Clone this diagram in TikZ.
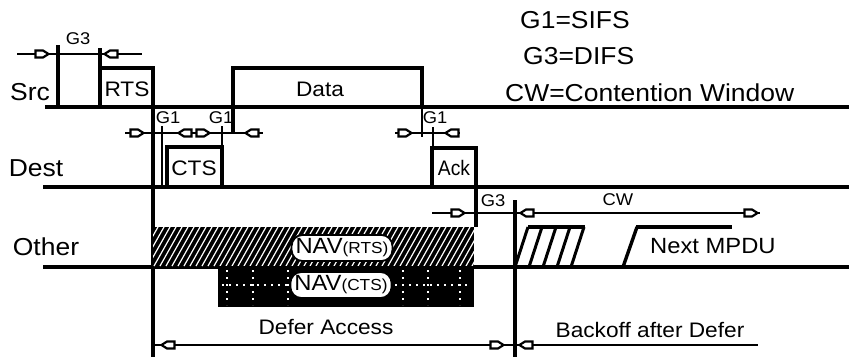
\documentclass[tikz,border=0pt]{standalone}
\usepackage{fontspec}
\setmainfont{Liberation Sans}[FakeStretch=1.08]
\begin{document}
\begin{tikzpicture}[x=1pt,y=-1pt,
  mainline/.style={line width=3.4pt},
  boxline/.style={line width=3.6pt, line join=miter},
  dimline/.style={line width=2.8pt},
  thinv/.style={line width=2.2pt},
  big/.style={inner sep=0pt, font=\fontsize{24.5}{26}\selectfont},
  mid/.style={inner sep=0pt, font=\fontsize{21}{22}\selectfont},
  small/.style={inner sep=0pt, font=\fontsize{17}{18}\selectfont},
  navbox/.style={draw, line width=1.8pt, fill=white, rounded corners=11pt,
    inner xsep=4pt, inner ysep=2pt, minimum height=26pt, font=\fontsize{22}{23}\selectfont},
  mkr/.pic={\draw[line width=2.2pt, fill=white, line join=miter]
     (-6.5,-3.5) -- (1,-3.5) -- (6.5,0) -- (1,3.5) -- (-6.5,3.5) -- cycle;}
]
\useasboundingbox (0,0) rectangle (849,357);

% ---------- time lines ----------
\draw[mainline] (45,107) -- (849,107);
\draw[mainline] (43,187) -- (849,187);
\draw[mainline] (43,267) -- (849,267);

\node[big] (src) at (30,92) {Src};
\node[big] (dest) at (36,168) {Dest};
\node[big] (other) at (46,247) {Other};

% ---------- legend ----------
\node[big, anchor=west] (lg1) at (520,20) {G1=SIFS};
\node[big, anchor=west] (lg3) at (523,56) {G3=DIFS};
\node[big, anchor=west] (lcw) at (505,93) {CW=Contention Window};

% ---------- Src: G3 + RTS + Data ----------
\draw[dimline] (17,54) -- (142,54);
\draw[boxline] (58,45) -- (58,107);
\draw[boxline] (100,48) -- (100,107) -- (100,68) -- (153,68) -- (153,357);
\node[mid] (rts) at (127,89) {RTS};
\node[small] (g3a) at (78,39) {G3};
\pic at (42,54) {mkr};
\pic[rotate=180] at (111,54) {mkr};

\draw[boxline] (233,133) -- (233,68) -- (422,68) -- (422,107);
\draw[thinv] (422,107) -- (422,137);
\node[mid] (data) at (320,89) {Data};

% ---------- Dest: CTS ----------
\draw[boxline] (167,187) -- (167,147) -- (222,147) -- (222,187);
\draw[thinv] (162,126) -- (162,187);
\draw[thinv] (222,126) -- (222,147);
\node[mid] (cts) at (194,168) {CTS};
\draw[dimline] (125,133) -- (263,133);
\pic at (137,133) {mkr};
\pic[rotate=180] at (185,133) {mkr};
\pic at (203,133) {mkr};
\pic[rotate=180] at (252,133) {mkr};
\node[small] (g1a) at (168,118) {G1};
\node[small] (g1b) at (221,118) {G1};

% ---------- Dest: Ack ----------
\draw[boxline] (432,188) -- (432,148) -- (476,148) -- (476,227);
\draw[thinv] (433,127) -- (433,148);
\node[mid, xscale=0.85] (ack) at (454,168) {Ack};
\draw[dimline] (395,133) -- (460,133);
\pic at (405,133) {mkr};
\pic[rotate=180] at (452,133) {mkr};
\node[small] (g1c) at (435,118) {G1};

% ---------- Other: NAV ----------
\fill[black] (153,227) rectangle (474,266);
\begin{scope}
  \clip (153,227) rectangle (474,266);
  \foreach \i in {0,...,60} {
    \draw[white, line width=1.2pt] (130+\i*6,266) -- ++(22,-39);
  }
\end{scope}
\fill[black] (218,266) rectangle (474,307);
\foreach \xx in {227,253,288,403,428,460} {
  \draw[white, line width=2.4pt, dash pattern=on 2pt off 5pt] (\xx,270) -- (\xx,305);
}
\draw[white, line width=2.4pt, dash pattern=on 2pt off 5pt] (222,285) -- (295,285);
\draw[white, line width=2.4pt, dash pattern=on 2pt off 5pt] (395,285) -- (470,285);
\node[navbox] (navrts) at (342,248) {NAV{\fontsize{16}{17}\selectfont(RTS)}};
\node[navbox] (navcts) at (341,285) {NAV{\fontsize{16}{17}\selectfont(CTS)}};

% ---------- G3 and CW ----------
\draw[boxline] (515,200) -- (515,357);
\draw[dimline] (432,213) -- (760,213);
\pic at (458,213) {mkr};
\pic[rotate=180] at (527,213) {mkr};
\pic at (751,213) {mkr};
\node[small] (g3b) at (493,201) {G3};
\node[small] (cw) at (618,200) {CW};

% ---------- Next MPDU ----------
\foreach \b in {515,529,543,557,571} {
  \draw[line width=3pt] (\b,267) -- ++(13,-40);
}
\draw[line width=3.4pt] (528,227) -- (585,227);
\draw[line width=3.4pt] (623,267) -- (637,227);
\draw[line width=4pt] (636,227) -- (732,227);
\node[inner sep=0pt, anchor=west, font=\fontsize{22}{23}\selectfont] (mpdu) at (650,246) {Next MPDU};

% ---------- Defer / Backoff ----------
\draw[dimline] (152,345) -- (515,345);
\pic[rotate=180] at (168,345) {mkr};
\pic at (497,345) {mkr};
\node[mid] (defer) at (326,327) {Defer Access};
\draw[dimline] (515,345) -- (758,345);
\pic[rotate=180] at (526,345) {mkr};
\node[mid] (backoff) at (650,330) {Backoff after Defer};
\end{tikzpicture}
\end{document}
